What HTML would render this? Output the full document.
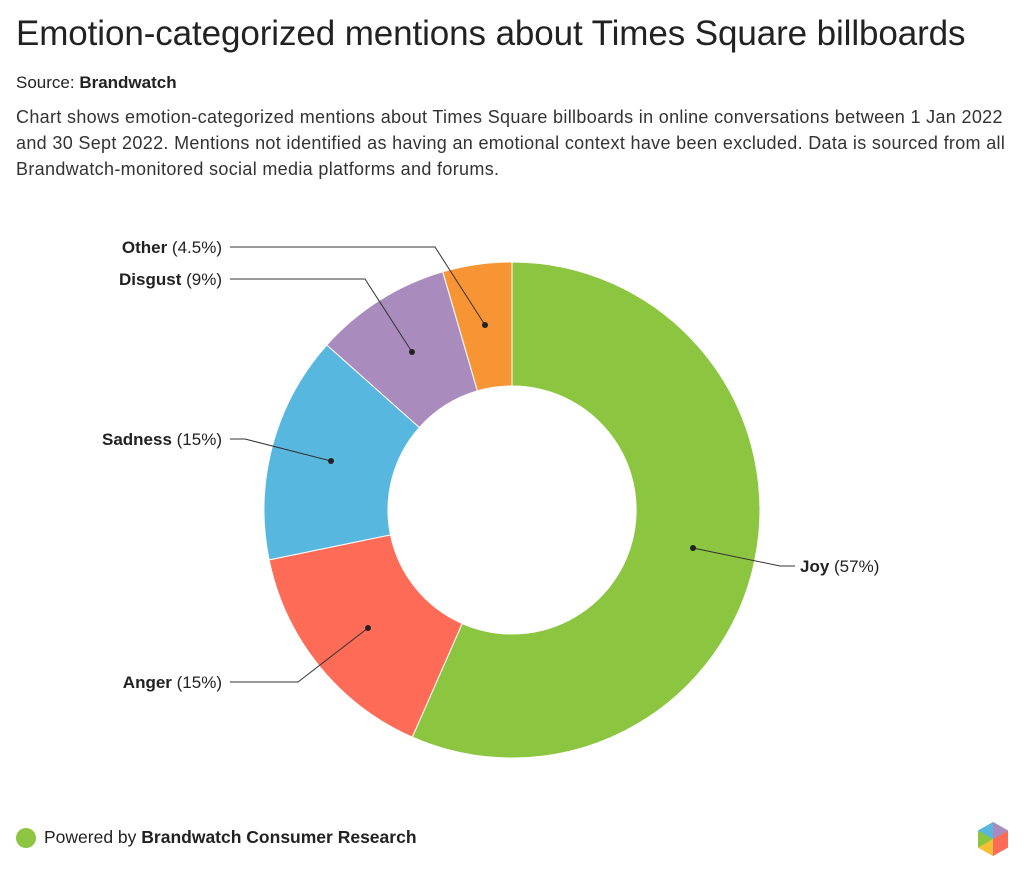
<!DOCTYPE html>
<html><head><meta charset="utf-8"><style>
body{margin:0;width:1024px;height:877px;background:#fff;font-family:"Liberation Sans",Arial,sans-serif;color:#222;position:relative;overflow:hidden}
h1{position:absolute;left:16px;top:14px;margin:0;font-size:35px;font-weight:normal;letter-spacing:-0.1px;white-space:nowrap}
.src{position:absolute;left:16px;top:73px;font-size:17px}
.desc{position:absolute;left:16px;top:104px;font-size:18px;letter-spacing:0.33px;line-height:26px;width:1010px;color:#333;white-space:nowrap}
.foot{position:absolute;left:16px;top:827px;font-size:17.5px;display:flex;align-items:center}
.dot{width:20px;height:20px;border-radius:50%;background:#8cc540;margin-right:8px}
</style></head><body>
<h1>Emotion-categorized mentions about Times Square billboards</h1>
<div class="src">Source: <b>Brandwatch</b></div>
<div class="desc">Chart shows emotion-categorized mentions about Times Square billboards in online conversations between 1 Jan 2022<br>and 30 Sept 2022. Mentions not identified as having an emotional context have been excluded. Data is sourced from all<br>Brandwatch-monitored social media platforms and forums.</div>
<svg style="position:absolute;left:0;top:0" width="1024" height="877">
<g stroke="#fff" stroke-width="1">
<path d="M512,262 A248,248 0 1 1 412.3,737.1 L462.2,623.5 A124,124 0 1 0 512,386 Z" fill="#8cc540"/>
<path d="M412.3,737.1 A248,248 0 0 1 269.1,559.9 L390.5,534.9 A124,124 0 0 0 462.2,623.5 Z" fill="#fe6b57"/>
<path d="M269.1,559.9 A248,248 0 0 1 326.8,345 L419.4,427.5 A124,124 0 0 0 390.5,534.9 Z" fill="#58b7de"/>
<path d="M326.8,345 A248,248 0 0 1 442.8,271.8 L477.4,390.9 A124,124 0 0 0 419.4,427.5 Z" fill="#a98bbd"/>
<path d="M442.8,271.8 A248,248 0 0 1 512,262 L512,386 A124,124 0 0 0 477.4,390.9 Z" fill="#f79433"/>
</g>
<g stroke="#333" stroke-width="1" fill="none">
<polyline points="693,548 780,566 795,566"/>
<polyline points="368,628 298,682 230,682"/>
<polyline points="331,461 245,439 230,439"/>
<polyline points="412,352 365,279 230,279"/>
<polyline points="485,325 435,247 230,247"/>
</g>
<g fill="#222"><circle cx="693" cy="548" r="3"/><circle cx="368" cy="628" r="3"/><circle cx="331" cy="461" r="3"/><circle cx="412" cy="352" r="3"/><circle cx="485" cy="325" r="3"/></g>
<g font-family="Liberation Sans, Arial, sans-serif" font-size="17" fill="#222">
<text x="800" y="572"><tspan font-weight="bold">Joy</tspan> (57%)</text>
<text x="222" y="688" text-anchor="end"><tspan font-weight="bold">Anger</tspan> (15%)</text>
<text x="222" y="445" text-anchor="end"><tspan font-weight="bold">Sadness</tspan> (15%)</text>
<text x="222" y="285" text-anchor="end"><tspan font-weight="bold">Disgust</tspan> (9%)</text>
<text x="222" y="253" text-anchor="end"><tspan font-weight="bold">Other</tspan> (4.5%)</text>
</g>
<g transform="translate(993,839)">
<polygon points="0,-17 15,-8.5 15,8.5 0,17 -15,8.5 -15,-8.5" fill="#58b7de"/>
<polygon points="0,0 15,-8.5 15,8.5 0,17" fill="#fe6b57"/>
<polygon points="0,0 0,17 -15,8.5" fill="#f7c033"/>
<polygon points="0,-17 15,-8.5 0,0" fill="#a98bbd"/>
<polygon points="0,0 -15,8.5 -15,-8.5" fill="#8cc540"/>
</g>
</svg>
<div class="foot"><div class="dot"></div>Powered by&nbsp;<b>Brandwatch Consumer Research</b></div>
</body></html>
